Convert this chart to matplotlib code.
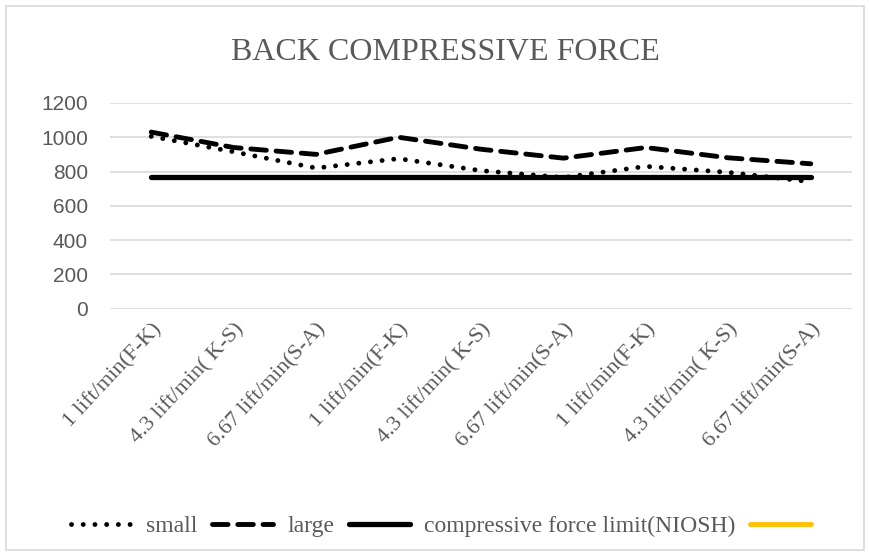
import numpy as np
import matplotlib.pyplot as plt
from matplotlib.lines import Line2D
from matplotlib.patches import Rectangle

categories = ['1 lift/min(F-K)', '4.3 lift/min( K-S)', '6.67 lift/min(S-A)',
              '1 lift/min(F-K)', '4.3 lift/min( K-S)', '6.67 lift/min(S-A)',
              '1 lift/min(F-K)', '4.3 lift/min( K-S)', '6.67 lift/min(S-A)']
small = [1005, 915, 820, 875, 805, 765, 830, 795, 740]
large = [1030, 940, 900, 1000, 930, 878, 940, 880, 845]
niosh_limit = [770, 770, 770, 770, 770, 770, 770, 770, 770]
yticks = [0, 200, 400, 600, 800, 1000, 1200]

gray = '#595959'
serif = ['Liberation Serif', 'DejaVu Serif']
sans = ['Liberation Sans', 'DejaVu Sans']

fig = plt.figure(figsize=(8.7, 5.56), dpi=100)
ax = fig.add_axes([110 / 870, 1 - 308.5 / 556, 742 / 870, 205.5 / 556])

x = np.arange(len(categories))
l_small, = ax.plot(x, small, color='black', lw=3.5, linestyle=(0, (0.01, 2.4)),
                   dash_capstyle='round')
l_large, = ax.plot(x, large, color='black', lw=3.5, linestyle=(0, (3.2, 2.0)),
                   dash_capstyle='round')
l_limit, = ax.plot(x, niosh_limit, color='black', lw=3.8, solid_capstyle='round')
l_extra = Line2D([], [], color='#FFC000', lw=3.5, solid_capstyle='round')

ax.set_xlim(-0.5, len(categories) - 0.5)
ax.set_ylim(0, 1200)
ax.set_yticks(yticks)
ax.set_yticklabels([str(v) for v in yticks], color=gray, fontsize=15, family=sans)
ax.set_xticks(x)
ax.set_xticklabels(categories, rotation=47, ha='right', va='top',
                   rotation_mode='anchor', color=gray, fontsize=16, family=serif)
ax.tick_params(axis='both', length=0)
ax.tick_params(axis='y', pad=16)
ax.tick_params(axis='x', pad=8)
ax.grid(axis='y', color='#D9D9D9', lw=1.2)
ax.set_axisbelow(True)
for s in ax.spines.values():
    s.set_visible(False)

fig.text(445 / 870, 1 - 53 / 556, 'BACK COMPRESSIVE FORCE', ha='center', va='center',
         fontsize=23, color=gray, family=serif)

fig.legend([l_small, l_large, l_limit, l_extra],
           ['small', 'large', 'compressive force limit(NIOSH)', ''],
           loc='center', bbox_to_anchor=(448 / 870, 1 - 526 / 556), ncol=4,
           frameon=False, handlelength=2.6, handletextpad=0.6, columnspacing=0.6,
           prop={'family': serif, 'size': 17}, labelcolor=gray)

fig.patches.append(Rectangle((6 / 870, 6 / 556), 858 / 870, 544 / 556,
                             transform=fig.transFigure, fill=False,
                             edgecolor='#D9D9D9', lw=1.2))

fig.savefig('out.png', dpi=100)
